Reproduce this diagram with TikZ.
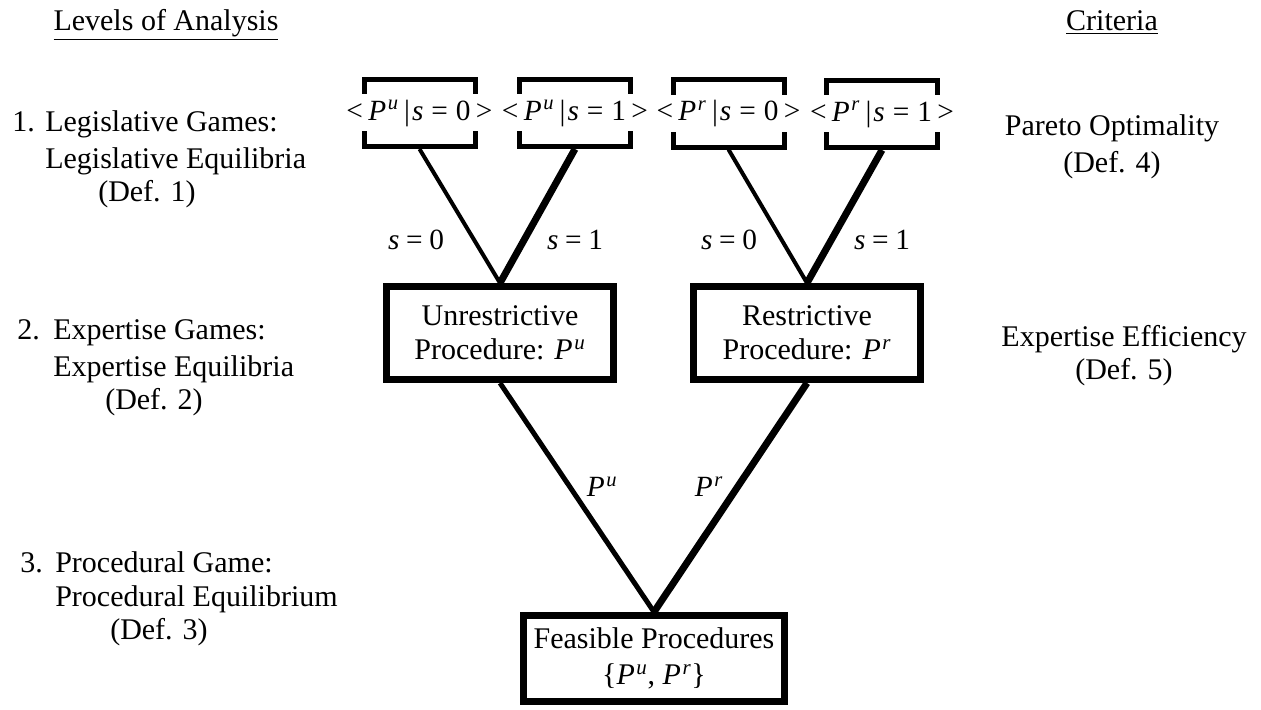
\documentclass[tikz,border=0pt]{standalone}
\usepackage{fontspec}
\setmainfont{Liberation Serif}
\usetikzlibrary{backgrounds}
\newcommand{\PU}{\textit{P}\kern1.2pt\textsuperscript{\textit{u}}}
\newcommand{\PR}{\textit{P}\kern1.2pt\textsuperscript{\textit{r}}}
\newcommand{\Ss}{\textit{s}}
\newcommand{\toptext}[2]{<\hspace{4pt}#1\hspace{4pt}|\hspace{1.5pt}\Ss\hspace{6pt}=\hspace{6pt}#2\hspace{4pt}>}
\begin{document}
\begin{tikzpicture}[x=0.75pt,y=-0.75pt,
  txt/.style={font=\fontsize{22.5}{26}\selectfont, inner sep=0pt},
  lab/.style={font=\fontsize{22}{26}\selectfont, inner sep=0pt},
  topbox/.style={draw, line width=3.75pt, minimum width=83.25pt, minimum height=50.25pt, inner sep=0pt},
  toplab/.style={fill=white, inner xsep=0pt, inner ysep=0pt, minimum height=27.75pt, font=\fontsize{22}{26}\selectfont},
  midbox/.style={draw, fill=white, line width=5.25pt, minimum width=170.25pt, minimum height=69.75pt, inner sep=0pt, align=center, font=\fontsize{22.5}{25.5}\selectfont},
  botbox/.style={draw, fill=white, line width=5.25pt, minimum width=195.75pt, minimum height=64.5pt, inner sep=0pt, align=center, font=\fontsize{22.5}{27}\selectfont},
  thinedge/.style={line width=3pt},
  thickedge/.style={line width=5.25pt},
  medge/.style={line width=3.75pt}
]
\useasboundingbox (0,0) rectangle (1261,710);

% headings
\node[txt, anchor=base] (h1) at (166,31) {\underline{Levels of Analysis}};
\node[txt, anchor=base] (h2) at (1112,31) {\underline{Criteria}};

% left column
\node[txt, anchor=base west] (n1) at (12,132) {1.};
\node[txt, anchor=base west] (a1) at (45,132) {Legislative Games:};
\node[txt, anchor=base west] (a2) at (45,168) {Legislative Equilibria};
\node[txt, anchor=base west] (a3) at (98,201) {(Def. 1)};
\node[txt, anchor=base west] (n2) at (17,339) {2.};
\node[txt, anchor=base west] (b1t) at (53,339) {Expertise Games:};
\node[txt, anchor=base west] (b2t) at (53,376) {Expertise Equilibria};
\node[txt, anchor=base west] (b3t) at (105,409) {(Def. 2)};
\node[txt, anchor=base west] (n3) at (20,572) {3.};
\node[txt, anchor=base west] (c1) at (55,572) {Procedural Game:};
\node[txt, anchor=base west] (c2) at (55,606) {Procedural Equilibrium};
\node[txt, anchor=base west] (c3) at (110,639) {(Def. 3)};

% right column
\node[txt, anchor=base] (r1) at (1112,136) {Pareto Optimality};
\node[txt, anchor=base] (r2) at (1112,172) {(Def. 4)};
\node[txt, anchor=base] (r3) at (1124,346) {Expertise Efficiency};
\node[txt, anchor=base] (r4) at (1124,379) {(Def. 5)};

% top boxes
\node[topbox] (t1) at (419.5,113) {};
\node[topbox] (t2) at (575,113) {};
\node[topbox] (t3) at (728.5,113.5) {};
\node[topbox] (t4) at (882,114) {};
\node[toplab] (tl1) at (t1.center) {\toptext{\PU}{0}};
\node[toplab] (tl2) at (t2.center) {\toptext{\PU}{1}};
\node[toplab] (tl3) at (t3.center) {\toptext{\PR}{0}};
\node[toplab] (tl4) at (t4.center) {\toptext{\PR}{1}};

% middle boxes
\node[midbox] (u) at (500,333) {Unrestrictive\\Procedure: \PU};
\node[midbox] (r) at (807,333) {Restrictive\\Procedure: \PR};

% bottom box
\node[botbox] (f) at (654,658.5) {Feasible Procedures\\\{\PU, \PR\}};

% connectors
\begin{scope}[on background layer]
\fill[white] (0,0) rectangle (1261,710);
\draw[thinedge] (t1.south) -- (u.north);
\draw[thickedge] (t2.south) -- (u.north);
\draw[thinedge] (t3.south) -- (r.north);
\draw[thickedge] (t4.south) -- (r.north);
\draw[medge] (u.south) -- (f.north);
\draw[thickedge] (r.south) -- (f.north);
\end{scope}

% edge labels
\node[lab] (s1) at (416,240) {\Ss\hspace{5pt}=\hspace{5pt}0};
\node[lab] (s2) at (575,240) {\Ss\hspace{5pt}=\hspace{5pt}1};
\node[lab] (s3) at (729,240) {\Ss\hspace{5pt}=\hspace{5pt}0};
\node[lab] (s4) at (882,240) {\Ss\hspace{5pt}=\hspace{5pt}1};
\node[lab] (p1) at (602,487) {\PU};
\node[lab] (p2) at (709,487) {\PR};
\end{tikzpicture}
\end{document}
